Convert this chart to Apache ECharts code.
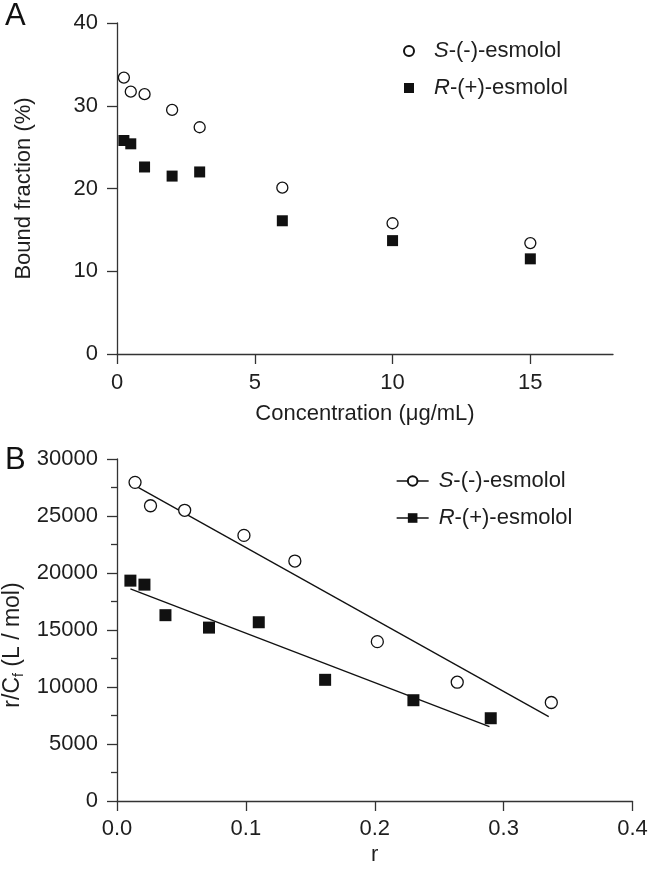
<!DOCTYPE html>
<html><head><meta charset="utf-8">
<script src="https://cdn.jsdelivr.net/npm/echarts@6/dist/echarts.min.js"></script>
<style>html,body{margin:0;padding:0;background:#fff}#c{width:648px;height:869px}</style>
</head><body><div id="c"></div>
<script>
// Panel A: bound fraction vs concentration
const concentration = [0.25, 0.5, 1, 2, 3, 6, 10, 15];
const boundS = [33.4, 31.7, 31.4, 29.5, 27.4, 20.1, 15.8, 13.4];
const boundR = [25.8, 25.4, 22.6, 21.5, 22.0, 16.1, 13.7, 11.5];
const ticksAx = [0, 5, 10, 15];

// Panel B: Scatchard plot
const rS = [0.014, 0.026, 0.0525, 0.0985, 0.138, 0.202, 0.264, 0.337];
const yS = [27950, 25900, 25500, 23300, 21050, 13980, 10420, 8640];
const rR = [0.0104, 0.0213, 0.0376, 0.0714, 0.110, 0.1615, 0.230, 0.290];
const yR = [19330, 18980, 16300, 15210, 15680, 10630, 8840, 7260];
// regression line end points
const fitSx = [0.015, 0.335];
const fitSy = [27600, 7400];
const fitRx = [0.0104, 0.289];
const fitRy = [18610, 6520];

const pairs = (xs, ys) => xs.map((x, i) => [x, ys[i]]);

const FONT = '"Liberation Sans", Arial, Helvetica, sans-serif';
const FS = 22;
const INK = '#111';
const AX = '#333';
const TXT = '#1e1e1e';

const legendLabels = {
  'A:S': '{h| }{i|S}-(-)-esmolol',
  'A:R': '{h| }{i|R}-(+)-esmolol',
  'B:S': '{g| }{i|S}-(-)-esmolol',
  'B:R': '{g| }{i|R}-(+)-esmolol'
};
const legendText = {
  fontFamily: FONT, fontSize: FS, color: TXT,
  rich: {
    i: { fontStyle: 'italic', fontSize: FS, fontFamily: FONT, color: TXT },
    g: { width: 5 },
    h: { width: 15 }
  }
};

function axisBase() {
  return {
    type: 'value',
    axisLine: { show: true, lineStyle: { color: AX, width: 1.3 } },
    axisTick: { show: true, inside: false, length: 10, lineStyle: { color: AX, width: 1.3 } },
    axisLabel: { fontFamily: FONT, fontSize: FS, color: TXT, margin: 19 },
    splitLine: { show: false },
    nameLocation: 'middle',
    nameTextStyle: { fontFamily: FONT, fontSize: FS, color: TXT }
  };
}

const chart = echarts.init(document.getElementById('c'), null, { renderer: 'canvas' });

const option = {
  animation: false,
  backgroundColor: '#fff',
  title: [
    { text: 'A', left: 0, top: -4, textStyle: { fontFamily: FONT, fontSize: 31, fontWeight: 'normal', color: '#111' } },
    { text: 'B', left: 0, top: 440, textStyle: { fontFamily: FONT, fontSize: 31, fontWeight: 'normal', color: '#111' } }
  ],
  grid: [
    { left: 117, top: 23, width: 496, height: 331, outerBoundsMode: 'none' },
    { left: 117, top: 459, width: 515.5, height: 342, outerBoundsMode: 'none' }
  ],
  xAxis: [
    Object.assign(axisBase(), {
      gridIndex: 0, min: 0, max: 18, interval: 5,
      name: 'Concentration (μg/mL)', nameGap: 49,
      axisTick: { show: true, inside: false, length: 10, customValues: ticksAx, lineStyle: { color: AX, width: 1.3 } },
      axisLabel: { fontFamily: FONT, fontSize: FS, color: TXT, margin: 18, customValues: ticksAx }
    }),
    Object.assign(axisBase(), {
      gridIndex: 1, min: 0, max: 0.4, interval: 0.1,
      name: 'r', nameGap: 43,
      axisLabel: { fontFamily: FONT, fontSize: FS, color: TXT, margin: 17, formatter: v => v.toFixed(1) }
    })
  ],
  yAxis: [
    Object.assign(axisBase(), {
      gridIndex: 0, min: 0, max: 40, interval: 10,
      name: 'Bound fraction (%)', nameGap: 82
    }),
    Object.assign(axisBase(), {
      gridIndex: 1, min: 0, max: 30000, interval: 5000,
      axisLabel: { fontFamily: FONT, fontSize: FS, color: TXT, margin: 19, formatter: v => String(v) },
      minorTick: { show: true, splitNumber: 2, length: 6, lineStyle: { color: AX, width: 1.3 } },
      name: '{n|r/}{n|C}{s|f}{n| (L / mol)}', nameGap: 70,
      nameTextStyle: {
        fontFamily: FONT, fontSize: 23, color: TXT, padding: [0, 30, 0, 0],
        rich: {
          n: { fontFamily: FONT, fontSize: 23, color: TXT },
          s: { fontFamily: FONT, fontSize: 14, color: TXT, padding: [12, 0, 0, 0] }
        }
      }
    })
  ],
  legend: [
    {
      orient: 'vertical', left: 398, top: 35, itemWidth: 10, itemHeight: 10, itemGap: 15,
      data: ['A:S', 'A:R'], formatter: n => legendLabels[n], textStyle: legendText,
      selectedMode: false
    },
    {
      orient: 'vertical', left: 391, top: 465, itemWidth: 32, itemHeight: 12, itemGap: 15,
      data: ['B:S', 'B:R'], formatter: n => legendLabels[n], textStyle: legendText,
      lineStyle: { color: INK, width: 1.3, opacity: 1 },
      selectedMode: false
    }
  ],
  series: [
    {
      name: 'A:S', type: 'scatter', xAxisIndex: 0, yAxisIndex: 0,
      symbol: 'circle', symbolSize: 11,
      itemStyle: { color: '#fff', borderColor: INK, borderWidth: 1.3, opacity: 1 },
      data: pairs(concentration, boundS), z: 5
    },
    {
      name: 'A:R', type: 'scatter', xAxisIndex: 0, yAxisIndex: 0,
      symbol: 'rect', symbolSize: 11,
      itemStyle: { color: INK, borderColor: INK, borderWidth: 0, opacity: 1 },
      data: pairs(concentration, boundR), z: 5
    },
    {
      name: 'fitS', type: 'line', xAxisIndex: 1, yAxisIndex: 1,
      symbol: 'none', lineStyle: { color: INK, width: 1.3 },
      data: pairs(fitSx, fitSy), z: 3, silent: true
    },
    {
      name: 'fitR', type: 'line', xAxisIndex: 1, yAxisIndex: 1,
      symbol: 'none', lineStyle: { color: INK, width: 1.3 },
      data: pairs(fitRx, fitRy), z: 3, silent: true
    },
    {
      name: 'B:S', type: 'line', xAxisIndex: 1, yAxisIndex: 1,
      symbol: 'circle', symbolSize: 12, showSymbol: true,
      lineStyle: { opacity: 0, width: 0 },
      itemStyle: { color: '#fff', borderColor: INK, borderWidth: 1.3, opacity: 1 },
      data: pairs(rS, yS), z: 5
    },
    {
      name: 'B:R', type: 'line', xAxisIndex: 1, yAxisIndex: 1,
      symbol: 'rect', symbolSize: 12, showSymbol: true,
      lineStyle: { opacity: 0, width: 0 },
      itemStyle: { color: INK, borderColor: INK, borderWidth: 0, opacity: 1 },
      data: pairs(rR, yR), z: 5
    }
  ]
};
chart.setOption(option);
</script>
</body></html>
